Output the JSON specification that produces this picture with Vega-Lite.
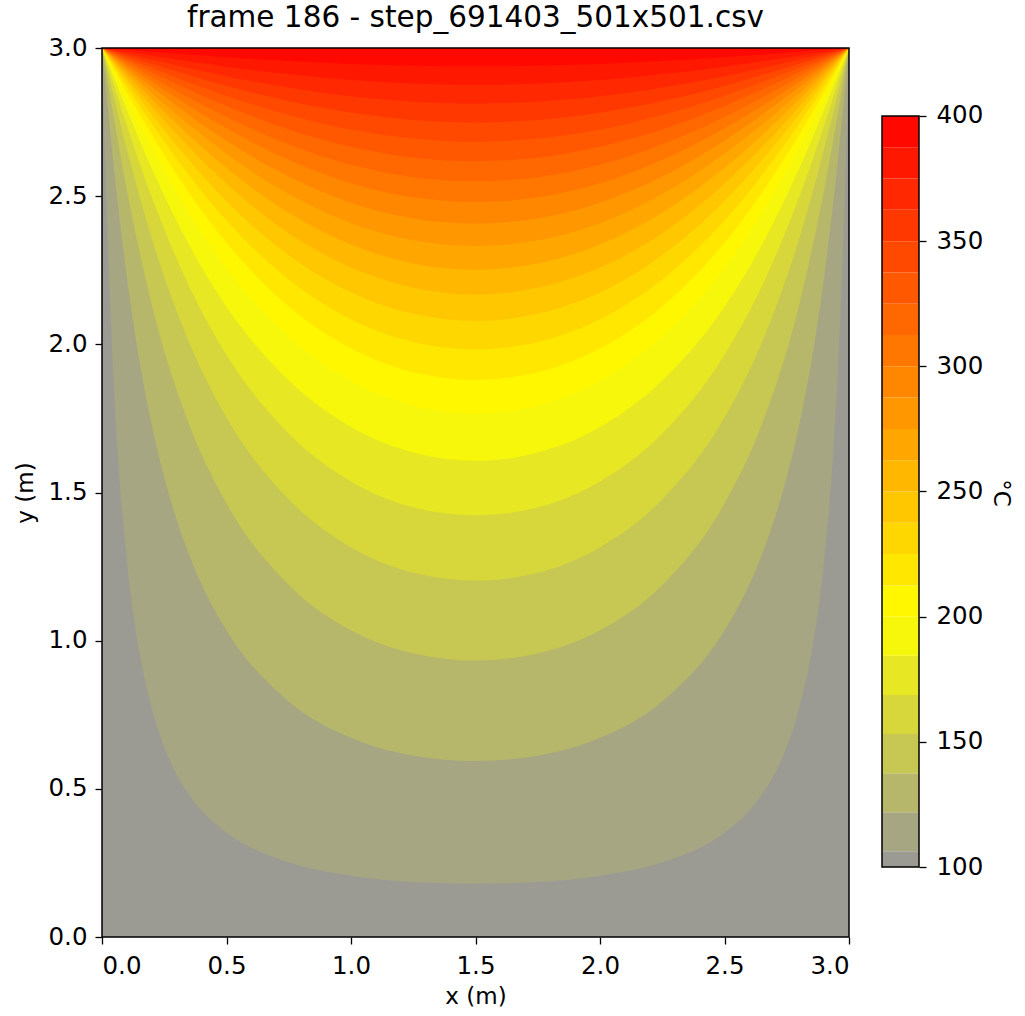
{
"$schema": "https://vega.github.io/schema/vega-lite/v6.json",
"padding": {"left": 14, "top": 2, "right": 5, "bottom": 5},
"config": {
  "font": "DejaVu Sans",
  "view": {"stroke": null},
  "axis": {"labelFontSize": 24.5, "titleFontSize": 23, "labelColor": "black", "titleColor": "black", "tickColor": "black", "tickSize": 7, "tickWidth": 1.3, "grid": false, "domain": false, "titleFontWeight": "normal", "labelPadding": 8}
},
"datasets": {
"iso": [
{"T":100,"x":0,"y":0},{"T":100,"x":3,"y":0},
{"T":106.25,"x":0,"y":3},{"T":106.25,"x":0.02,"y":2.426},{"T":106.25,"x":0.05,"y":1.823},{"T":106.25,"x":0.1,"y":1.27},{"T":106.25,"x":0.15,"y":0.964},{"T":106.25,"x":0.2,"y":0.772},{"T":106.25,"x":0.27,"y":0.601},{"T":106.25,"x":0.35,"y":0.48},{"T":106.25,"x":0.42,"y":0.409},{"T":106.25,"x":0.5,"y":0.352},{"T":106.25,"x":0.75,"y":0.252},{"T":106.25,"x":1,"y":0.207},{"T":106.25,"x":1.25,"y":0.186},{"T":106.25,"x":1.5,"y":0.18},{"T":106.25,"x":1.75,"y":0.186},{"T":106.25,"x":2,"y":0.207},{"T":106.25,"x":2.25,"y":0.252},{"T":106.25,"x":2.5,"y":0.352},{"T":106.25,"x":2.58,"y":0.409},{"T":106.25,"x":2.65,"y":0.48},{"T":106.25,"x":2.73,"y":0.601},{"T":106.25,"x":2.8,"y":0.772},{"T":106.25,"x":2.85,"y":0.964},{"T":106.25,"x":2.9,"y":1.27},{"T":106.25,"x":2.95,"y":1.823},{"T":106.25,"x":2.98,"y":2.426},{"T":106.25,"x":3,"y":3},
{"T":121.875,"x":0,"y":3},{"T":121.875,"x":0.02,"y":2.827},{"T":121.875,"x":0.05,"y":2.58},{"T":121.875,"x":0.1,"y":2.226},{"T":121.875,"x":0.15,"y":1.946},{"T":121.875,"x":0.2,"y":1.727},{"T":121.875,"x":0.27,"y":1.491},{"T":121.875,"x":0.35,"y":1.29},{"T":121.875,"x":0.42,"y":1.155},{"T":121.875,"x":0.5,"y":1.034},{"T":121.875,"x":0.75,"y":0.795},{"T":121.875,"x":1,"y":0.672},{"T":121.875,"x":1.25,"y":0.612},{"T":121.875,"x":1.5,"y":0.594},{"T":121.875,"x":1.75,"y":0.612},{"T":121.875,"x":2,"y":0.672},{"T":121.875,"x":2.25,"y":0.795},{"T":121.875,"x":2.5,"y":1.034},{"T":121.875,"x":2.58,"y":1.155},{"T":121.875,"x":2.65,"y":1.29},{"T":121.875,"x":2.73,"y":1.491},{"T":121.875,"x":2.8,"y":1.727},{"T":121.875,"x":2.85,"y":1.946},{"T":121.875,"x":2.9,"y":2.226},{"T":121.875,"x":2.95,"y":2.58},{"T":121.875,"x":2.98,"y":2.827},{"T":121.875,"x":3,"y":3},
{"T":137.5,"x":0,"y":3},{"T":137.5,"x":0.02,"y":2.9},{"T":137.5,"x":0.05,"y":2.752},{"T":137.5,"x":0.1,"y":2.52},{"T":137.5,"x":0.2,"y":2.134},{"T":137.5,"x":0.35,"y":1.73},{"T":137.5,"x":0.5,"y":1.463},{"T":137.5,"x":0.75,"y":1.188},{"T":137.5,"x":1,"y":1.035},{"T":137.5,"x":1.25,"y":0.957},{"T":137.5,"x":1.5,"y":0.933},{"T":137.5,"x":1.75,"y":0.957},{"T":137.5,"x":2,"y":1.035},{"T":137.5,"x":2.25,"y":1.188},{"T":137.5,"x":2.5,"y":1.463},{"T":137.5,"x":2.65,"y":1.73},{"T":137.5,"x":2.8,"y":2.134},{"T":137.5,"x":2.9,"y":2.52},{"T":137.5,"x":2.95,"y":2.752},{"T":137.5,"x":2.98,"y":2.9},{"T":137.5,"x":3,"y":3},
{"T":153.125,"x":0,"y":3},{"T":153.125,"x":0.02,"y":2.93},{"T":153.125,"x":0.05,"y":2.826},{"T":153.125,"x":0.1,"y":2.658},{"T":153.125,"x":0.2,"y":2.357},{"T":153.125,"x":0.35,"y":2.006},{"T":153.125,"x":0.5,"y":1.753},{"T":153.125,"x":0.75,"y":1.477},{"T":153.125,"x":1,"y":1.315},{"T":153.125,"x":1.25,"y":1.229},{"T":153.125,"x":1.5,"y":1.203},{"T":153.125,"x":1.75,"y":1.229},{"T":153.125,"x":2,"y":1.315},{"T":153.125,"x":2.25,"y":1.477},{"T":153.125,"x":2.5,"y":1.753},{"T":153.125,"x":2.65,"y":2.006},{"T":153.125,"x":2.8,"y":2.357},{"T":153.125,"x":2.9,"y":2.658},{"T":153.125,"x":2.95,"y":2.826},{"T":153.125,"x":2.98,"y":2.93},{"T":153.125,"x":3,"y":3},
{"T":168.75,"x":0,"y":3},{"T":168.75,"x":0.02,"y":2.947},{"T":168.75,"x":0.05,"y":2.868},{"T":168.75,"x":0.1,"y":2.738},{"T":168.75,"x":0.2,"y":2.497},{"T":168.75,"x":0.35,"y":2.196},{"T":168.75,"x":0.5,"y":1.965},{"T":168.75,"x":0.75,"y":1.699},{"T":168.75,"x":1,"y":1.537},{"T":168.75,"x":1.25,"y":1.45},{"T":168.75,"x":1.5,"y":1.423},{"T":168.75,"x":1.75,"y":1.45},{"T":168.75,"x":2,"y":1.537},{"T":168.75,"x":2.25,"y":1.699},{"T":168.75,"x":2.5,"y":1.965},{"T":168.75,"x":2.65,"y":2.196},{"T":168.75,"x":2.8,"y":2.497},{"T":168.75,"x":2.9,"y":2.738},{"T":168.75,"x":2.95,"y":2.868},{"T":168.75,"x":2.98,"y":2.947},{"T":168.75,"x":3,"y":3},
{"T":184.375,"x":0,"y":3},{"T":184.375,"x":0.02,"y":2.958},{"T":184.375,"x":0.05,"y":2.895},{"T":184.375,"x":0.1,"y":2.791},{"T":184.375,"x":0.2,"y":2.593},{"T":184.375,"x":0.35,"y":2.335},{"T":184.375,"x":0.5,"y":2.127},{"T":184.375,"x":0.75,"y":1.878},{"T":184.375,"x":1,"y":1.721},{"T":184.375,"x":1.25,"y":1.635},{"T":184.375,"x":1.5,"y":1.607},{"T":184.375,"x":1.75,"y":1.635},{"T":184.375,"x":2,"y":1.721},{"T":184.375,"x":2.25,"y":1.878},{"T":184.375,"x":2.5,"y":2.127},{"T":184.375,"x":2.65,"y":2.335},{"T":184.375,"x":2.8,"y":2.593},{"T":184.375,"x":2.9,"y":2.791},{"T":184.375,"x":2.95,"y":2.895},{"T":184.375,"x":2.98,"y":2.958},{"T":184.375,"x":3,"y":3},
{"T":200,"x":0,"y":3},{"T":200,"x":0.02,"y":2.965},{"T":200,"x":0.05,"y":2.914},{"T":200,"x":0.1,"y":2.828},{"T":200,"x":0.2,"y":2.664},{"T":200,"x":0.35,"y":2.442},{"T":200,"x":0.5,"y":2.257},{"T":200,"x":0.75,"y":2.026},{"T":200,"x":1,"y":1.876},{"T":200,"x":1.25,"y":1.793},{"T":200,"x":1.5,"y":1.766},{"T":200,"x":1.75,"y":1.793},{"T":200,"x":2,"y":1.876},{"T":200,"x":2.25,"y":2.026},{"T":200,"x":2.5,"y":2.257},{"T":200,"x":2.65,"y":2.442},{"T":200,"x":2.8,"y":2.664},{"T":200,"x":2.9,"y":2.828},{"T":200,"x":2.95,"y":2.914},{"T":200,"x":2.98,"y":2.965},{"T":200,"x":3,"y":3},
{"T":212.5,"x":0,"y":3},{"T":212.5,"x":0.02,"y":2.97},{"T":212.5,"x":0.05,"y":2.925},{"T":212.5,"x":0.1,"y":2.851},{"T":212.5,"x":0.2,"y":2.708},{"T":212.5,"x":0.35,"y":2.511},{"T":212.5,"x":0.5,"y":2.343},{"T":212.5,"x":0.75,"y":2.128},{"T":212.5,"x":1,"y":1.986},{"T":212.5,"x":1.25,"y":1.906},{"T":212.5,"x":1.5,"y":1.88},{"T":212.5,"x":1.75,"y":1.906},{"T":212.5,"x":2,"y":1.986},{"T":212.5,"x":2.25,"y":2.128},{"T":212.5,"x":2.5,"y":2.343},{"T":212.5,"x":2.65,"y":2.511},{"T":212.5,"x":2.8,"y":2.708},{"T":212.5,"x":2.9,"y":2.851},{"T":212.5,"x":2.95,"y":2.925},{"T":212.5,"x":2.98,"y":2.97},{"T":212.5,"x":3,"y":3},
{"T":225,"x":0,"y":3},{"T":225,"x":0.02,"y":2.974},{"T":225,"x":0.05,"y":2.935},{"T":225,"x":0.1,"y":2.87},{"T":225,"x":0.2,"y":2.745},{"T":225,"x":0.35,"y":2.57},{"T":225,"x":0.5,"y":2.418},{"T":225,"x":0.75,"y":2.219},{"T":225,"x":1,"y":2.085},{"T":225,"x":1.25,"y":2.008},{"T":225,"x":1.5,"y":1.983},{"T":225,"x":1.75,"y":2.008},{"T":225,"x":2,"y":2.085},{"T":225,"x":2.25,"y":2.219},{"T":225,"x":2.5,"y":2.418},{"T":225,"x":2.65,"y":2.57},{"T":225,"x":2.8,"y":2.745},{"T":225,"x":2.9,"y":2.87},{"T":225,"x":2.95,"y":2.935},{"T":225,"x":2.98,"y":2.974},{"T":225,"x":3,"y":3},
{"T":237.5,"x":0,"y":3},{"T":237.5,"x":0.02,"y":2.977},{"T":237.5,"x":0.05,"y":2.943},{"T":237.5,"x":0.1,"y":2.887},{"T":237.5,"x":0.2,"y":2.776},{"T":237.5,"x":0.35,"y":2.621},{"T":237.5,"x":0.5,"y":2.483},{"T":237.5,"x":0.75,"y":2.301},{"T":237.5,"x":1,"y":2.175},{"T":237.5,"x":1.25,"y":2.103},{"T":237.5,"x":1.5,"y":2.079},{"T":237.5,"x":1.75,"y":2.103},{"T":237.5,"x":2,"y":2.175},{"T":237.5,"x":2.25,"y":2.301},{"T":237.5,"x":2.5,"y":2.483},{"T":237.5,"x":2.65,"y":2.621},{"T":237.5,"x":2.8,"y":2.776},{"T":237.5,"x":2.9,"y":2.887},{"T":237.5,"x":2.95,"y":2.943},{"T":237.5,"x":2.98,"y":2.977},{"T":237.5,"x":3,"y":3},
{"T":250,"x":0,"y":3},{"T":250,"x":0.02,"y":2.98},{"T":250,"x":0.05,"y":2.95},{"T":250,"x":0.1,"y":2.9},{"T":250,"x":0.2,"y":2.803},{"T":250,"x":0.35,"y":2.665},{"T":250,"x":0.5,"y":2.542},{"T":250,"x":0.75,"y":2.375},{"T":250,"x":1,"y":2.259},{"T":250,"x":1.25,"y":2.191},{"T":250,"x":1.5,"y":2.168},{"T":250,"x":1.75,"y":2.191},{"T":250,"x":2,"y":2.259},{"T":250,"x":2.25,"y":2.375},{"T":250,"x":2.5,"y":2.542},{"T":250,"x":2.65,"y":2.665},{"T":250,"x":2.8,"y":2.803},{"T":250,"x":2.9,"y":2.9},{"T":250,"x":2.95,"y":2.95},{"T":250,"x":2.98,"y":2.98},{"T":250,"x":3,"y":3},
{"T":262.5,"x":0,"y":3},{"T":262.5,"x":0.02,"y":2.983},{"T":262.5,"x":0.05,"y":2.956},{"T":262.5,"x":0.1,"y":2.913},{"T":262.5,"x":0.2,"y":2.827},{"T":262.5,"x":0.35,"y":2.705},{"T":262.5,"x":0.5,"y":2.595},{"T":262.5,"x":0.75,"y":2.444},{"T":262.5,"x":1,"y":2.337},{"T":262.5,"x":1.25,"y":2.273},{"T":262.5,"x":1.5,"y":2.252},{"T":262.5,"x":1.75,"y":2.273},{"T":262.5,"x":2,"y":2.337},{"T":262.5,"x":2.25,"y":2.444},{"T":262.5,"x":2.5,"y":2.595},{"T":262.5,"x":2.65,"y":2.705},{"T":262.5,"x":2.8,"y":2.827},{"T":262.5,"x":2.9,"y":2.913},{"T":262.5,"x":2.95,"y":2.956},{"T":262.5,"x":2.98,"y":2.983},{"T":262.5,"x":3,"y":3},
{"T":275,"x":0,"y":3},{"T":275,"x":0.02,"y":2.985},{"T":275,"x":0.05,"y":2.962},{"T":275,"x":0.1,"y":2.924},{"T":275,"x":0.2,"y":2.848},{"T":275,"x":0.35,"y":2.741},{"T":275,"x":0.5,"y":2.643},{"T":275,"x":0.75,"y":2.507},{"T":275,"x":1,"y":2.409},{"T":275,"x":1.25,"y":2.351},{"T":275,"x":1.5,"y":2.332},{"T":275,"x":1.75,"y":2.351},{"T":275,"x":2,"y":2.409},{"T":275,"x":2.25,"y":2.507},{"T":275,"x":2.5,"y":2.643},{"T":275,"x":2.65,"y":2.741},{"T":275,"x":2.8,"y":2.848},{"T":275,"x":2.9,"y":2.924},{"T":275,"x":2.95,"y":2.962},{"T":275,"x":2.98,"y":2.985},{"T":275,"x":3,"y":3},
{"T":287.5,"x":0,"y":3},{"T":287.5,"x":0.02,"y":2.987},{"T":287.5,"x":0.05,"y":2.967},{"T":287.5,"x":0.1,"y":2.933},{"T":287.5,"x":0.2,"y":2.868},{"T":287.5,"x":0.35,"y":2.774},{"T":287.5,"x":0.5,"y":2.687},{"T":287.5,"x":0.75,"y":2.566},{"T":287.5,"x":1,"y":2.478},{"T":287.5,"x":1.25,"y":2.425},{"T":287.5,"x":1.5,"y":2.408},{"T":287.5,"x":1.75,"y":2.425},{"T":287.5,"x":2,"y":2.478},{"T":287.5,"x":2.25,"y":2.566},{"T":287.5,"x":2.5,"y":2.687},{"T":287.5,"x":2.65,"y":2.774},{"T":287.5,"x":2.8,"y":2.868},{"T":287.5,"x":2.9,"y":2.933},{"T":287.5,"x":2.95,"y":2.967},{"T":287.5,"x":2.98,"y":2.987},{"T":287.5,"x":3,"y":3},
{"T":300,"x":0,"y":3},{"T":300,"x":0.02,"y":2.989},{"T":300,"x":0.05,"y":2.971},{"T":300,"x":0.1,"y":2.942},{"T":300,"x":0.2,"y":2.886},{"T":300,"x":0.35,"y":2.804},{"T":300,"x":0.5,"y":2.729},{"T":300,"x":0.75,"y":2.622},{"T":300,"x":1,"y":2.544},{"T":300,"x":1.25,"y":2.496},{"T":300,"x":1.5,"y":2.48},{"T":300,"x":1.75,"y":2.496},{"T":300,"x":2,"y":2.544},{"T":300,"x":2.25,"y":2.622},{"T":300,"x":2.5,"y":2.729},{"T":300,"x":2.65,"y":2.804},{"T":300,"x":2.8,"y":2.886},{"T":300,"x":2.9,"y":2.942},{"T":300,"x":2.95,"y":2.971},{"T":300,"x":2.98,"y":2.989},{"T":300,"x":3,"y":3},
{"T":312.5,"x":0,"y":3},{"T":312.5,"x":0.02,"y":2.99},{"T":312.5,"x":0.05,"y":2.975},{"T":312.5,"x":0.1,"y":2.951},{"T":312.5,"x":0.2,"y":2.902},{"T":312.5,"x":0.35,"y":2.832},{"T":312.5,"x":0.5,"y":2.767},{"T":312.5,"x":0.75,"y":2.675},{"T":312.5,"x":1,"y":2.606},{"T":312.5,"x":1.25,"y":2.564},{"T":312.5,"x":1.5,"y":2.55},{"T":312.5,"x":1.75,"y":2.564},{"T":312.5,"x":2,"y":2.606},{"T":312.5,"x":2.25,"y":2.675},{"T":312.5,"x":2.5,"y":2.767},{"T":312.5,"x":2.65,"y":2.832},{"T":312.5,"x":2.8,"y":2.902},{"T":312.5,"x":2.9,"y":2.951},{"T":312.5,"x":2.95,"y":2.975},{"T":312.5,"x":2.98,"y":2.99},{"T":312.5,"x":3,"y":3},
{"T":325,"x":0,"y":3},{"T":325,"x":0.02,"y":2.992},{"T":325,"x":0.05,"y":2.979},{"T":325,"x":0.1,"y":2.959},{"T":325,"x":0.2,"y":2.918},{"T":325,"x":0.35,"y":2.859},{"T":325,"x":0.5,"y":2.804},{"T":325,"x":0.75,"y":2.725},{"T":325,"x":1,"y":2.667},{"T":325,"x":1.25,"y":2.63},{"T":325,"x":1.5,"y":2.618},{"T":325,"x":1.75,"y":2.63},{"T":325,"x":2,"y":2.667},{"T":325,"x":2.25,"y":2.725},{"T":325,"x":2.5,"y":2.804},{"T":325,"x":2.65,"y":2.859},{"T":325,"x":2.8,"y":2.918},{"T":325,"x":2.9,"y":2.959},{"T":325,"x":2.95,"y":2.979},{"T":325,"x":2.98,"y":2.992},{"T":325,"x":3,"y":3},
{"T":337.5,"x":0,"y":3},{"T":337.5,"x":0.02,"y":2.993},{"T":337.5,"x":0.05,"y":2.983},{"T":337.5,"x":0.1,"y":2.966},{"T":337.5,"x":0.2,"y":2.933},{"T":337.5,"x":0.35,"y":2.884},{"T":337.5,"x":0.5,"y":2.839},{"T":337.5,"x":0.75,"y":2.774},{"T":337.5,"x":1,"y":2.725},{"T":337.5,"x":1.25,"y":2.695},{"T":337.5,"x":1.5,"y":2.684},{"T":337.5,"x":1.75,"y":2.695},{"T":337.5,"x":2,"y":2.725},{"T":337.5,"x":2.25,"y":2.774},{"T":337.5,"x":2.5,"y":2.839},{"T":337.5,"x":2.65,"y":2.884},{"T":337.5,"x":2.8,"y":2.933},{"T":337.5,"x":2.9,"y":2.966},{"T":337.5,"x":2.95,"y":2.983},{"T":337.5,"x":2.98,"y":2.993},{"T":337.5,"x":3,"y":3},
{"T":350,"x":0,"y":3},{"T":350,"x":0.02,"y":2.995},{"T":350,"x":0.05,"y":2.987},{"T":350,"x":0.1,"y":2.973},{"T":350,"x":0.2,"y":2.947},{"T":350,"x":0.35,"y":2.909},{"T":350,"x":0.5,"y":2.873},{"T":350,"x":0.75,"y":2.821},{"T":350,"x":1,"y":2.782},{"T":350,"x":1.25,"y":2.757},{"T":350,"x":1.5,"y":2.749},{"T":350,"x":1.75,"y":2.757},{"T":350,"x":2,"y":2.782},{"T":350,"x":2.25,"y":2.821},{"T":350,"x":2.5,"y":2.873},{"T":350,"x":2.65,"y":2.909},{"T":350,"x":2.8,"y":2.947},{"T":350,"x":2.9,"y":2.973},{"T":350,"x":2.95,"y":2.987},{"T":350,"x":2.98,"y":2.995},{"T":350,"x":3,"y":3},
{"T":362.5,"x":0,"y":3},{"T":362.5,"x":0.02,"y":2.996},{"T":362.5,"x":0.05,"y":2.99},{"T":362.5,"x":0.1,"y":2.98},{"T":362.5,"x":0.2,"y":2.961},{"T":362.5,"x":0.35,"y":2.932},{"T":362.5,"x":0.5,"y":2.905},{"T":362.5,"x":0.75,"y":2.867},{"T":362.5,"x":1,"y":2.837},{"T":362.5,"x":1.25,"y":2.819},{"T":362.5,"x":1.5,"y":2.813},{"T":362.5,"x":1.75,"y":2.819},{"T":362.5,"x":2,"y":2.837},{"T":362.5,"x":2.25,"y":2.867},{"T":362.5,"x":2.5,"y":2.905},{"T":362.5,"x":2.65,"y":2.932},{"T":362.5,"x":2.8,"y":2.961},{"T":362.5,"x":2.9,"y":2.98},{"T":362.5,"x":2.95,"y":2.99},{"T":362.5,"x":2.98,"y":2.996},{"T":362.5,"x":3,"y":3},
{"T":375,"x":0,"y":3},{"T":375,"x":0.02,"y":2.997},{"T":375,"x":0.05,"y":2.993},{"T":375,"x":0.1,"y":2.987},{"T":375,"x":0.2,"y":2.974},{"T":375,"x":0.35,"y":2.955},{"T":375,"x":0.5,"y":2.937},{"T":375,"x":0.75,"y":2.912},{"T":375,"x":1,"y":2.892},{"T":375,"x":1.25,"y":2.88},{"T":375,"x":1.5,"y":2.876},{"T":375,"x":1.75,"y":2.88},{"T":375,"x":2,"y":2.892},{"T":375,"x":2.25,"y":2.912},{"T":375,"x":2.5,"y":2.937},{"T":375,"x":2.65,"y":2.955},{"T":375,"x":2.8,"y":2.974},{"T":375,"x":2.9,"y":2.987},{"T":375,"x":2.95,"y":2.993},{"T":375,"x":2.98,"y":2.997},{"T":375,"x":3,"y":3},
{"T":387.5,"x":0,"y":3},{"T":387.5,"x":0.02,"y":2.999},{"T":387.5,"x":0.05,"y":2.997},{"T":387.5,"x":0.1,"y":2.994},{"T":387.5,"x":0.2,"y":2.987},{"T":387.5,"x":0.35,"y":2.978},{"T":387.5,"x":0.5,"y":2.969},{"T":387.5,"x":0.75,"y":2.956},{"T":387.5,"x":1,"y":2.946},{"T":387.5,"x":1.25,"y":2.94},{"T":387.5,"x":1.5,"y":2.938},{"T":387.5,"x":1.75,"y":2.94},{"T":387.5,"x":2,"y":2.946},{"T":387.5,"x":2.25,"y":2.956},{"T":387.5,"x":2.5,"y":2.969},{"T":387.5,"x":2.65,"y":2.978},{"T":387.5,"x":2.8,"y":2.987},{"T":387.5,"x":2.9,"y":2.994},{"T":387.5,"x":2.95,"y":2.997},{"T":387.5,"x":2.98,"y":2.999},{"T":387.5,"x":3,"y":3}
],
"bar": [
{"T":100,"T2":106.25},{"T":106.25,"T2":121.875},{"T":121.875,"T2":137.5},{"T":137.5,"T2":153.125},{"T":153.125,"T2":168.75},{"T":168.75,"T2":184.375},{"T":184.375,"T2":200},{"T":200,"T2":212.5},{"T":212.5,"T2":225},{"T":225,"T2":237.5},{"T":237.5,"T2":250},{"T":250,"T2":262.5},{"T":262.5,"T2":275},{"T":275,"T2":287.5},{"T":287.5,"T2":300},{"T":300,"T2":312.5},{"T":312.5,"T2":325},{"T":325,"T2":337.5},{"T":337.5,"T2":350},{"T":350,"T2":362.5},{"T":362.5,"T2":375},{"T":375,"T2":387.5},{"T":387.5,"T2":400}
]
},
"spacing": 33,
"bounds": "flush",
"hconcat": [
{
  "width": 747, "height": 889,
  "title": {"text": "frame 186 - step_691403_501x501.csv", "fontSize": 29.5, "fontWeight": "normal", "offset": 2, "color": "black"},
  "layer": [
    {
      "data": {"name": "iso"},
      "mark": {"type": "area", "interpolate": "monotone", "orient": "vertical"},
      "encoding": {
        "x": {"field": "x", "type": "quantitative", "scale": {"domain": [0, 3], "nice": false, "zero": false}, "axis": {"title": "x (m)", "values": [0, 0.5, 1, 1.5, 2, 2.5, 3], "format": ".1f", "labelPadding": 10, "titlePadding": 8}},
        "y": {"field": "y", "type": "quantitative", "stack": null, "scale": {"domain": [0, 3], "nice": false, "zero": false}, "axis": {"title": "y (m)", "values": [0, 0.5, 1, 1.5, 2, 2.5, 3], "format": ".1f", "labelPadding": 8, "titlePadding": 10.5}},
        "y2": {"datum": 3},
        "color": {"field": "T", "type": "ordinal", "legend": null, "scale": {
          "domain": [100, 106.25, 121.875, 137.5, 153.125, 168.75, 184.375, 200, 212.5, 225, 237.5, 250, 262.5, 275, 287.5, 300, 312.5, 325, 337.5, 350, 362.5, 375, 387.5],
          "range": ["#9b9b93", "#a6a683", "#b7b76b", "#c7c753", "#d7d73b", "#e7e724", "#f7f70c", "#fff700", "#ffe700", "#ffd700", "#ffc700", "#ffb700", "#ffa700", "#ff9700", "#ff8700", "#ff7700", "#ff6800", "#ff5800", "#ff4800", "#ff3800", "#ff2800", "#ff1800", "#ff0800"]}}
      }
    },
    {
      "data": {"values": [{}]},
      "mark": {"type": "rect", "filled": false, "stroke": "black", "strokeWidth": 1.5},
      "encoding": {"x": {"datum": 0}, "x2": {"datum": 3}, "y": {"datum": 0}, "y2": {"datum": 3}}
    }
  ]
},
{
  "width": 37, "height": 889,
  "layer": [
    {
      "data": {"name": "bar"},
      "mark": {"type": "rect"},
      "encoding": {
        "x": {"datum": 0, "type": "quantitative", "scale": {"domain": [0, 1], "nice": false, "zero": false}, "axis": null},
        "x2": {"datum": 1},
        "y": {"field": "T", "type": "quantitative", "scale": {"domain": [72.04, 427.16], "nice": false, "zero": false}, "axis": {"orient": "right", "title": "°C", "values": [100, 150, 200, 250, 300, 350, 400], "format": "d", "labelPadding": 10, "titlePadding": 6}},
        "y2": {"field": "T2"},
        "color": {"field": "T", "type": "ordinal", "legend": null, "scale": {
          "domain": [100, 106.25, 121.875, 137.5, 153.125, 168.75, 184.375, 200, 212.5, 225, 237.5, 250, 262.5, 275, 287.5, 300, 312.5, 325, 337.5, 350, 362.5, 375, 387.5],
          "range": ["#9b9b93", "#a6a683", "#b7b76b", "#c7c753", "#d7d73b", "#e7e724", "#f7f70c", "#fff700", "#ffe700", "#ffd700", "#ffc700", "#ffb700", "#ffa700", "#ff9700", "#ff8700", "#ff7700", "#ff6800", "#ff5800", "#ff4800", "#ff3800", "#ff2800", "#ff1800", "#ff0800"]}}
      }
    },
    {
      "data": {"values": [{}]},
      "mark": {"type": "rect", "filled": false, "stroke": "black", "strokeWidth": 1.5},
      "encoding": {"x": {"datum": 0, "type": "quantitative"}, "x2": {"datum": 1}, "y": {"datum": 100, "type": "quantitative"}, "y2": {"datum": 400}}
    }
  ]
}
]
}
